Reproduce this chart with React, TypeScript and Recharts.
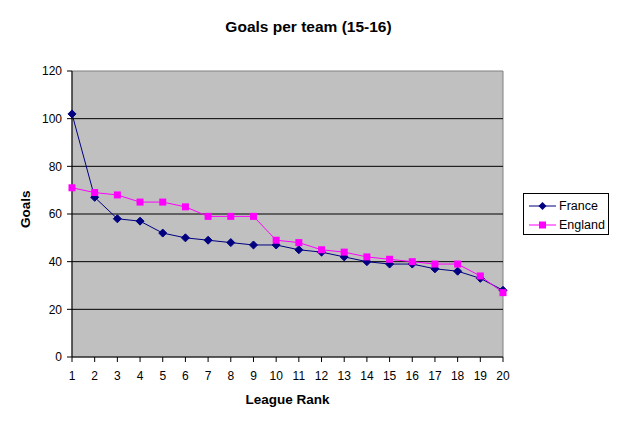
import { LineChart, Line, XAxis, YAxis, ReferenceArea, ReferenceLine } from 'recharts'

const RANKS = [1, 2, 3, 4, 5, 6, 7, 8, 9, 10, 11, 12, 13, 14, 15, 16, 17, 18, 19, 20]
const FRANCE = [102, 67, 58, 57, 52, 50, 49, 48, 47, 47, 45, 44, 42, 40, 39, 39, 37, 36, 33, 28]
const ENGLAND = [71, 69, 68, 65, 65, 63, 59, 59, 59, 49, 48, 45, 44, 42, 41, 40, 39, 39, 34, 27]
const Y_TICKS = [0, 20, 40, 60, 80, 100, 120]
const GRID_LINES = [20, 40, 60, 80, 100]

const data = RANKS.map((rank, i) => ({ rank, France: FRANCE[i], England: ENGLAND[i] }))

const FONT = '"Liberation Sans", Arial, sans-serif'
const NAVY = '#000080'
const MAGENTA = '#ff00ff'

function Diamond({ cx, cy }: { cx?: number; cy?: number }) {
  if (cx == null || cy == null) return null
  return <polygon points={`${cx},${cy - 4} ${cx + 4},${cy} ${cx},${cy + 4} ${cx - 4},${cy}`} fill={NAVY} stroke={NAVY} />
}

function Square({ cx, cy }: { cx?: number; cy?: number }) {
  if (cx == null || cy == null) return null
  return <rect x={cx - 3.5} y={cy - 3.5} width={7} height={7} fill={MAGENTA} />
}

function LegendBox() {
  const row = (name: string, color: string, square: boolean) => (
    <div style={{ display: 'flex', alignItems: 'center', height: 19 }}>
      <svg width={30} height={12}>
        <line x1={1} y1={6} x2={28} y2={6} stroke={color} />
        {square
          ? <rect x={11} y={2.5} width={7} height={7} fill={color} />
          : <polygon points="14.5,2 18.5,6 14.5,10 10.5,6" fill={color} />}
      </svg>
      <span style={{ marginLeft: 1 }}>{name}</span>
    </div>
  )
  return (
    <div style={{
      position: 'absolute', left: 523, top: 193,
      border: '1px solid #000', background: '#fff', width: 86, height: 42,
      boxSizing: 'border-box', padding: '2px 0 0 4px', fontFamily: FONT, fontSize: 12.5, color: '#000',
    }}>
      {row('France', NAVY, false)}
      {row('England', MAGENTA, true)}
    </div>
  )
}

export default function App() {
  return (
    <div style={{ position: 'absolute', left: 0, top: 0, width: 617, height: 425, background: '#fff' }}>
      <div style={{
        position: 'absolute', top: 18, left: 0, width: 617, textAlign: 'center',
        fontFamily: FONT, fontWeight: 'bold', fontSize: 15.5, color: '#000',
      }}>
        Goals per team (15-16)
      </div>
      <LineChart width={617} height={425} data={data} margin={{ top: 71, right: 114, bottom: 8, left: 12 }}>
        <ReferenceArea x1={1} x2={20} y1={0} y2={120} fill="#c0c0c0" fillOpacity={1} stroke="#808080" ifOverflow="extendDomain" />
        {GRID_LINES.map(v => (
          <ReferenceLine key={v} y={v} stroke="#000" strokeWidth={1} />
        ))}
        <XAxis
          dataKey="rank" type="number" domain={[1, 20]} ticks={RANKS} interval={0} height={60}
          axisLine={{ stroke: '#000' }} tickLine={{ stroke: '#000' }} tickSize={5} tickMargin={9}
          tick={{ fill: '#000', fontSize: 12, fontFamily: FONT }}
          label={{ value: 'League Rank', position: 'insideBottom', offset: 13, fill: '#000', fontSize: 13.5, fontWeight: 'bold', fontFamily: FONT }}
        />
        <YAxis
          domain={[0, 120]} ticks={Y_TICKS} interval={0} width={60}
          axisLine={{ stroke: '#000' }} tickLine={{ stroke: '#000' }} tickSize={5} tickMargin={5}
          tick={{ fill: '#000', fontSize: 12, fontFamily: FONT }}
          label={{ value: 'Goals', angle: -90, position: 'insideLeft', offset: 13, fill: '#000', fontSize: 13.5, fontWeight: 'bold', fontFamily: FONT, dy: 14 }}
        />
        <Line dataKey="France" stroke={NAVY} strokeWidth={1} dot={<Diamond />} activeDot={false} isAnimationActive={false} />
        <Line dataKey="England" stroke={MAGENTA} strokeWidth={1} dot={<Square />} activeDot={false} isAnimationActive={false} />
      </LineChart>
      <LegendBox />
    </div>
  )
}
